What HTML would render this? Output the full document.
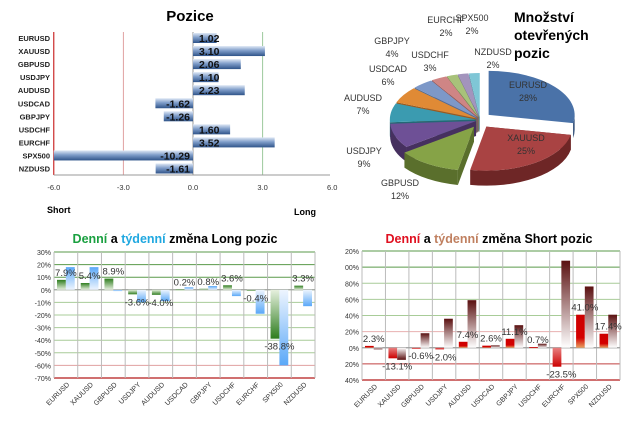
<!DOCTYPE html>
<html><head><meta charset="utf-8"><style>
body{margin:0;background:#fff;width:629px;height:421px;overflow:hidden;font-family:"Liberation Sans",sans-serif}
svg text{font-family:"Liberation Sans",sans-serif}
</style></head><body>
<svg id="s" width="629" height="421">
<defs>
<linearGradient id="gBar" x1="0" y1="0" x2="0" y2="1"><stop offset="0" stop-color="#dfe8f5"/><stop offset="0.45" stop-color="#7f9dc9"/><stop offset="1" stop-color="#2f5489"/></linearGradient>
<linearGradient id="gGreen" x1="0" y1="0" x2="0" y2="1"><stop offset="0" stop-color="#2e7d1e"/><stop offset="1" stop-color="#e6f0de"/></linearGradient>
<linearGradient id="gGreenN" x1="0" y1="1" x2="0" y2="0"><stop offset="0" stop-color="#2e7d1e"/><stop offset="1" stop-color="#e6f0de"/></linearGradient>
<linearGradient id="gBlue" x1="0" y1="0" x2="0" y2="1"><stop offset="0" stop-color="#5aa8f8"/><stop offset="1" stop-color="#eef5fe"/></linearGradient>
<linearGradient id="gBlueN" x1="0" y1="1" x2="0" y2="0"><stop offset="0" stop-color="#5aa8f8"/><stop offset="1" stop-color="#eef5fe"/></linearGradient>
<linearGradient id="gRed" x1="0" y1="0" x2="0" y2="1"><stop offset="0" stop-color="#cc0000"/><stop offset="0.7" stop-color="#d40000"/><stop offset="1" stop-color="#e8a060"/></linearGradient>
<linearGradient id="gRedN" x1="0" y1="1" x2="0" y2="0"><stop offset="0" stop-color="#cc0000"/><stop offset="1" stop-color="#e88080"/></linearGradient>
<linearGradient id="gDark" x1="0" y1="0" x2="0" y2="1"><stop offset="0" stop-color="#5a1010"/><stop offset="1" stop-color="#ffffff"/></linearGradient>
<linearGradient id="gDarkN" x1="0" y1="1" x2="0" y2="0"><stop offset="0" stop-color="#5a1010"/><stop offset="1" stop-color="#ffffff"/></linearGradient>
</defs>
<g id="pos"></g><g id="pie"></g><g id="lg"></g><g id="sh"></g>
</svg>
<script>
const NS="http://www.w3.org/2000/svg";
function mk(p,t,a,txt){const e=document.createElementNS(NS,t);for(const k in a)e.setAttribute(k,a[k]);if(txt!==undefined)e.textContent=txt;p.appendChild(e);return e;}
const cats=["EURUSD","XAUUSD","GBPUSD","USDJPY","AUDUSD","USDCAD","GBPJPY","USDCHF","EURCHF","SPX500","NZDUSD"];
const posVals=[1.02,3.10,2.06,1.10,2.23,-1.62,-1.26,1.60,3.52,-10.29,-1.61];
const posTicks=[-6,-3,0,3,6];
const pieCats=["EURUSD","XAUUSD","GBPUSD","USDJPY","AUDUSD","USDCAD","GBPJPY","USDCHF","EURCHF","SPX500","NZDUSD"];
const pieVals=[28,25,12,9,7,6,4,3,2,2,2];
const longDaily=[7.9,5.4,8.9,-3.6,-4.0,0.2,0.8,3.6,-0.4,-38.8,3.3];
const longWeekly=[18,18,-1,-10,-9,2,3,-5,-19,-60,-13];
const longTicks=[30,20,10,0,-10,-20,-30,-40,-50,-60,-70];
const shortDaily=[2.3,-13.1,-0.6,-2.0,7.4,2.6,11.1,0.7,-23.5,41.0,17.4];
const shortWeekly=[-2,-15,18,36,59,3,28,5,108,76,41];
const shortTicks=[120,100,80,60,40,20,0,-20,-40];

// ---- Pozice ----
(function(){
const g=document.getElementById('pos');
const x=v=>193+v*23.2, y=i=>38+i*13.05;
let t=mk(g,'text',{x:190,y:21,'font-size':15,'font-weight':'bold','text-anchor':'middle'},'Pozice');

const gc={"-6":"#c00000","-3":"#e0a0a0","3":"#9cc89c"};
posTicks.forEach(v=>{
 if(gc[v]){const l=mk(g,'line',{x1:x(v),x2:x(v),y1:32,y2:175,stroke:gc[v],'stroke-width':1});}
 const tt=mk(g,'text',{x:x(v),y:190,'font-size':7.5,'text-anchor':'middle',fill:'#333'},v.toFixed(1));
 
});
mk(g,'line',{x1:x(0),x2:x(0),y1:32,y2:175,stroke:'#999'});
mk(g,'line',{x1:x(-6),x2:330,y1:175,y2:175,stroke:'#999'});
cats.forEach((c,i)=>{
 const v=posVals[i];const cx=Math.max(x(-6),Math.min(x(v),x(0)));const w=Math.abs(Math.max(x(v),x(-6))-x(0));
 const r=mk(g,'rect',{x:cx,y:y(i)-5,width:w,height:10,fill:'url(#gBar)'});
 
 const l=mk(g,'text',{x:50,y:y(i)+3,'font-size':7.5,'font-weight':'bold','text-anchor':'end',fill:'#222'},c);
 
 const vt=mk(g,'text',{x:v>=0?x(0)+6:x(0)-3,y:y(i)+4,'font-size':10.5,'font-weight':'bold','text-anchor':v>=0?'start':'end',fill:'#111'},v.toFixed(2));
 
});
t=mk(g,'text',{x:47,y:213,'font-size':9,'font-weight':'bold'},'Short');
t=mk(g,'text',{x:294,y:215,'font-size':9,'font-weight':'bold'},'Long');
})();

// ---- Pie ----
(function(){
const g=document.getElementById('pie');
const cols=["#4a72a8","#a94343","#86a347","#6e5096","#3b9bb0","#e08a35","#7d98c8","#cf8585","#a8c27a","#a394bd","#7fc6d6"];
const dark=["#2c4a74","#6e2626","#5a6f2c","#46305f","#236876","#9b5a1e","#516c93","#955454","#728a4c","#6d5f86","#4f909e"];
const cx=480,cy=120,rx=86,ry=44,d=15,tot=pieVals.reduce((a,b)=>a+b,0);
const labs=[[528,88],[526,141],[400,186],[364,154],[363,101],[388,72],[392,44],[430,58],[446,23],[472,21],[493,55]];
let a0=-Math.PI/2;
const segs=[];
pieVals.forEach((v,i)=>{const a1=a0+v/tot*2*Math.PI;segs.push([a0,a1,i]);a0=a1;});
const order=segs.slice().sort((p,q)=>Math.sin((q[0]+q[1])/2)<Math.sin((p[0]+p[1])/2)?1:-1);
order.forEach(([s,e,i])=>{
 const m=(s+e)/2,ex=i<3?8:3,ox=cx+Math.cos(m)*ex*1.4,oy=cy+Math.sin(m)*ex;
 const P=(a,dy)=>[ox+rx*Math.cos(a),oy+ry*Math.sin(a)+dy];
 const gg=mk(g,'g',{});
 const ss=Math.max(s,0),ee=Math.min(e,Math.PI);
 if(ee>ss){const a=P(ss,0),b=P(ee,0),b2=P(ee,d),a2=P(ss,d);
  mk(gg,'path',{d:`M${a}A${rx},${ry} 0 0 1 ${b}L${b2}A${rx},${ry} 0 0 0 ${a2}Z`,fill:dark[i]});}
 const a=P(s,0),b=P(e,0),large=(e-s)>Math.PI?1:0;
 mk(gg,'path',{d:`M${ox},${oy}L${ox},${oy+d}L${a[0]},${a[1]+d}L${a}Z`,fill:dark[i]});
 mk(gg,'path',{d:`M${ox},${oy}L${a}A${rx},${ry} 0 ${large} 1 ${b}Z`,fill:cols[i]});
});
pieCats.forEach((c,i)=>{
 const t=mk(g,'text',{x:labs[i][0],y:labs[i][1],'font-size':9,'text-anchor':'middle',fill:'#333'});
 
 mk(t,'tspan',{x:labs[i][0],dy:0},c);mk(t,'tspan',{x:labs[i][0],dy:13},pieVals[i]+'%');
});
const t=mk(g,'text',{x:514,y:22,'font-size':14,'font-weight':'bold'});

['Množství','otevřených','pozic'].forEach((s,k)=>mk(t,'tspan',{x:514,dy:k?18:0},s));
})();

// ---- change charts ----
function change(gid,x0,x1,yTop,yBot,ticks,daily,weekly,dF,dN,wF,wN,tickFmt,gridCol){
 const g=document.getElementById(gid);
 const tmax=ticks[0],tmin=ticks[ticks.length-1];
 const y=v=>yTop+(tmax-v)/(tmax-tmin)*(yBot-yTop);
 const bw=(x1-x0)/cats.length;
 ticks.forEach(v=>{
  const l=mk(g,'line',{x1:x0,x2:x1,y1:y(v),y2:y(v),stroke:gridCol(v),'stroke-width':v===tmin?1.5:1});
  
  const t=mk(g,'text',{x:x0-3,y:y(v)+3,'font-size':7,'text-anchor':'end',fill:'#333'},tickFmt(v));
  
 });
 for(let i=0;i<=cats.length;i++)mk(g,'line',{x1:x0+i*bw,x2:x0+i*bw,y1:yTop,y2:yBot,stroke:'#bbb'});
 mk(g,'line',{x1:x0,x2:x1,y1:y(0),y2:y(0),stroke:'#999'});
 cats.forEach((c,i)=>{
  const bx=x0+i*bw;
  const dv=daily[i],wv=weekly[i];
  let r=mk(g,'rect',{x:bx+3,y:Math.min(y(dv),y(0)),width:bw/2-3,height:Math.max(1,Math.abs(y(dv)-y(0))),fill:dv>=0?dF:dN});
  
  r=mk(g,'rect',{x:bx+bw/2,y:Math.min(y(wv),y(0)),width:bw/2-3,height:Math.max(1,Math.abs(y(wv)-y(0))),fill:wv>=0?wF:wN});
  
  const lt=mk(g,'text',{x:bx+bw/2,y:dv>=0?y(dv)-4:y(dv)+11,'font-size':9.5,'text-anchor':'middle',fill:'#333'},dv.toFixed(1)+'%');
  
  const ct=mk(g,'text',{x:0,y:0,'font-size':7,'text-anchor':'end',fill:'#333',transform:`translate(${bx+bw/2+4},${yBot+7}) rotate(-45)`},c);
  
 });
}
change('lg',54,315,252,378,longTicks,longDaily,longWeekly,'url(#gGreen)','url(#gGreenN)','url(#gBlue)','url(#gBlueN)',v=>v+'%',
 v=>v===-70?'#c04040':v===-60?'#e0a0a0':v>=10?'#5a9a4a':'#a8cc98');
change('sh',362,620,251,380,shortTicks,shortDaily,shortWeekly,'url(#gRed)','url(#gRedN)','url(#gDark)','url(#gDarkN)',v=>(v>=100?String(v).slice(1):v<0?String(-v):v)+'%',
 v=>v<0?'#c04040':v===20?'#e8b0b0':v===0?'#999':v>=100?'#5a9a4a':'#a8cc98');
(function(){
 const g=document.getElementById('lg');
 const t=mk(g,'text',{x:175,y:243,'font-size':12.5,'font-weight':'bold','text-anchor':'middle'});
 
 mk(t,'tspan',{fill:'#1aa040'},'Denní');mk(t,'tspan',{},' a ');mk(t,'tspan',{fill:'#20a8e0'},'týdenní');mk(t,'tspan',{},' změna Long pozic');
 const g2=document.getElementById('sh');
 const t2=mk(g2,'text',{x:489,y:243,'font-size':12.5,'font-weight':'bold','text-anchor':'middle'});
 
 mk(t2,'tspan',{fill:'#e01020'},'Denní');mk(t2,'tspan',{},' a ');mk(t2,'tspan',{fill:'#c08060'},'týdenní');mk(t2,'tspan',{},' změna Short pozic');
})();
</script>
</body></html>
